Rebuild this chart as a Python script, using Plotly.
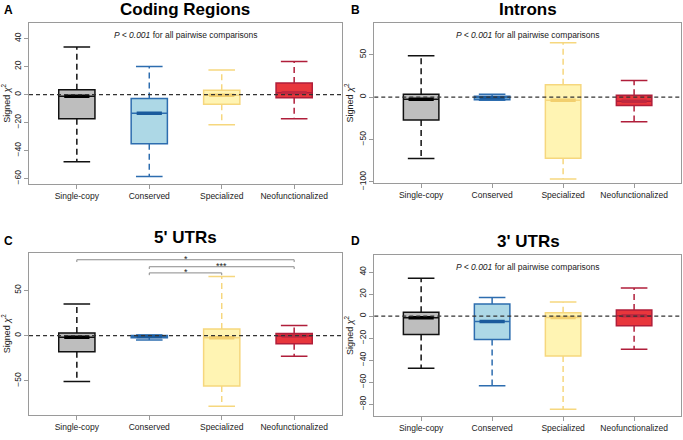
import plotly.graph_objects as go

CATEGORIES = ["Single-copy", "Conserved", "Specialized", "Neofunctionalized"]
PANEL_TITLES = ["Coding Regions", "Introns", "5' UTRs", "3' UTRs"]
PANEL_LETTERS = ["A", "B", "C", "D"]
PVALUE_NOTE = "<i>P &lt; 0.001</i> for all pairwise comparisons"

# Panel A - Coding regions
CODING_LOWER = [-48.0, -58.7, -21.6, -17.4]
CODING_Q1 = [-17.4, -35.2, -7.0, -2.3]
CODING_MEDIAN = [-1.2, -13.4, -0.5, 1.2]
CODING_Q3 = [3.5, -2.8, 3.0, 8.2]
CODING_UPPER = [34.0, 20.0, 17.6, 23.7]

# Panel B - Introns
INTRON_LOWER = [-72.4, -3.5, -96.5, -29.0]
INTRON_Q1 = [-27.0, -3.0, -72.0, -9.7]
INTRON_MEDIAN = [-2.3, -0.8, -3.5, -4.7]
INTRON_Q3 = [3.5, 1.2, 14.8, 2.3]
INTRON_UPPER = [48.8, 3.5, 64.4, 19.8]

# Panel C - 5' UTRs
UTR5_LOWER = [-50.7, -5.0, -78.0, -22.8]
UTR5_Q1 = [-18.0, -2.5, -55.8, -9.0]
UTR5_MEDIAN = [-1.8, -1.0, -2.5, -0.5]
UTR5_Q3 = [2.9, 0.0, 7.2, 2.2]
UTR5_UPPER = [34.8, 0.5, 65.2, 11.2]
UTR5_BRACKET_FROM = ["Single-copy", "Conserved", "Conserved"]
UTR5_BRACKET_TO = ["Neofunctionalized", "Neofunctionalized", "Specialized"]
UTR5_BRACKET_HEIGHT = [83.7, 76.0, 69.2]
UTR5_BRACKET_LABEL = ["*", "***", "*"]

# Panel D - 3' UTRs
UTR3_LOWER = [-47.3, -63.0, -84.5, -30.0]
UTR3_Q1 = [-16.7, -21.2, -36.0, -8.7]
UTR3_MEDIAN = [-1.5, -4.8, -1.2, 0.5]
UTR3_Q3 = [3.6, 11.0, 3.2, 5.6]
UTR3_UPPER = [34.5, 17.0, 13.0, 25.5]

FILL_COLORS = ["#BEBEBE", "#ADD8E6", "#FFF4B3", "#E8363C"]
LINE_COLORS = ["#111111", "#2D6DAF", "#F6D77E", "#B01E3A"]
MEDIAN_COLORS = ["#000000", "#1A5A9C", "#F2CF6E", "#C0283F"]

PANELS = [
    dict(lower=CODING_LOWER, q1=CODING_Q1, med=CODING_MEDIAN, q3=CODING_Q3, upper=CODING_UPPER,
         yrange=[-64, 51.4], ticks=[-60, -40, -20, 0, 20, 40], note=True,
         xdom=[0.0425, 0.5007], ydom=[0.575, 0.9477]),
    dict(lower=INTRON_LOWER, q1=INTRON_Q1, med=INTRON_MEDIAN, q3=INTRON_Q3, upper=INTRON_UPPER,
         yrange=[-101.5, 88], ticks=[-100, -50, 0, 50], note=True,
         xdom=[0.548, 0.997], ydom=[0.577, 0.9477]),
    dict(lower=UTR5_LOWER, q1=UTR5_Q1, med=UTR5_MEDIAN, q3=UTR5_Q3, upper=UTR5_UPPER,
         yrange=[-87.7, 91.6], ticks=[-50, 0, 50], note=False,
         xdom=[0.0425, 0.5007], ydom=[0.0416, 0.4166]),
    dict(lower=UTR3_LOWER, q1=UTR3_Q1, med=UTR3_MEDIAN, q3=UTR3_Q3, upper=UTR3_UPPER,
         yrange=[-90.2, 55.4], ticks=[-80, -60, -40, -20, 0, 20, 40], note=True,
         xdom=[0.548, 0.997], ydom=[0.0402, 0.4107]),
]

FONT = "Liberation Sans, Arial, Helvetica, sans-serif"
FRAME = "#9a9a9a"

fig = go.Figure()
shapes = []
annotations = []

for p, panel in enumerate(PANELS):
    sfx = "" if p == 0 else str(p + 1)
    xa, ya = "x" + sfx, "y" + sfx
    for i, cat in enumerate(CATEGORIES):
        fig.add_trace(go.Box(
            x=[cat], q1=[panel["q1"][i]], median=[panel["med"][i]], q3=[panel["q3"][i]],
            lowerfence=[panel["q1"][i]], upperfence=[panel["q3"][i]],
            width=0.5, whiskerwidth=0, boxpoints=False,
            fillcolor=FILL_COLORS[i], line=dict(color=LINE_COLORS[i], width=1.5),
            xaxis=xa, yaxis=ya, showlegend=False, hoverinfo="skip",
        ))
        # dashed whiskers
        fig.add_trace(go.Scatter(
            x=[cat, cat, None, cat, cat],
            y=[panel["q3"][i], panel["upper"][i], None, panel["q1"][i], panel["lower"][i]],
            mode="lines", line=dict(color=LINE_COLORS[i], width=1.5, dash="6px,4px"),
            xaxis=xa, yaxis=ya, showlegend=False, hoverinfo="skip",
        ))
        # whisker caps
        fig.add_trace(go.Scatter(
            x=[cat, cat], y=[panel["upper"][i], panel["lower"][i]],
            mode="markers",
            marker=dict(symbol="line-ew", size=19, line=dict(color=LINE_COLORS[i], width=1.5)),
            xaxis=xa, yaxis=ya, showlegend=False, hoverinfo="skip",
        ))
        # thick notch band at the median
        fig.add_trace(go.Scatter(
            x=[cat], y=[panel["med"][i]], mode="markers",
            marker=dict(symbol="line-ew", size=18, line=dict(color=MEDIAN_COLORS[i], width=3.5)),
            xaxis=xa, yaxis=ya, showlegend=False, hoverinfo="skip",
        ))
    # zero reference line
    shapes.append(dict(type="line", xref=xa + " domain", yref=ya, x0=0, x1=1, y0=0, y1=0,
                       line=dict(color="#333333", width=1.2, dash="4px,3px"), layer="above"))
    if panel["note"]:
        annotations.append(dict(text=PVALUE_NOTE, xref=xa + " domain", yref=ya + " domain",
                                x=0.5, y=0.925, showarrow=False, xanchor="center", yanchor="middle",
                                font=dict(family=FONT, size=8.5, color="#222222")))
    fig.layout["xaxis" + sfx] = dict(
        domain=panel["xdom"], anchor=ya, type="category", categoryorder="array",
        categoryarray=CATEGORIES, range=[-0.66, 3.66], showline=True, mirror=True,
        linecolor=FRAME, linewidth=1, ticks="outside", ticklen=4, tickcolor=FRAME,
        tickfont=dict(family=FONT, size=8.5, color="#222222"), showgrid=False, zeroline=False,
    )
    fig.layout["yaxis" + sfx] = dict(
        domain=panel["ydom"], anchor=xa, range=panel["yrange"], tickvals=panel["ticks"],
        tickangle=-90, showline=True, mirror=True, linecolor=FRAME, linewidth=1,
        ticks="outside", ticklen=4, tickcolor=FRAME,
        tickfont=dict(family=FONT, size=8.5, color="#222222"), showgrid=False, zeroline=False,
        title=dict(text="Signed <i>χ</i><sup>2</sup>", standoff=2,
                   font=dict(family=FONT, size=9, color="#222222")),
    )

# significance brackets on the 5' UTR panel
for a, b, h, lab in zip(UTR5_BRACKET_FROM, UTR5_BRACKET_TO, UTR5_BRACKET_HEIGHT, UTR5_BRACKET_LABEL):
    fig.add_trace(go.Scatter(
        x=[a, a, b, b], y=[h - 2.5, h, h, h - 2.5], mode="lines",
        line=dict(color="#8a8a8a", width=1), xaxis="x3", yaxis="y3",
        showlegend=False, hoverinfo="skip",
    ))
    mid = (CATEGORIES.index(a) + CATEGORIES.index(b)) / 2
    annotations.append(dict(text=lab, xref="x3", yref="y3", x=mid, y=h, showarrow=False,
                            xanchor="center", yanchor="middle", yshift=1,
                            font=dict(family=FONT, size=9, color="#222222")))

# panel titles and letters
TITLE_POS = [(185, 10), (528, 10), (185, 241), (528, 245)]
LETTER_POS = [(8, 10), (355, 10), (8, 245), (355, 245)]
W, H = 683, 440
for k in range(4):
    tx, ty = TITLE_POS[k]
    annotations.append(dict(text="<b>" + PANEL_TITLES[k] + "</b>", xref="paper", yref="paper",
                            x=tx / W, y=1 - ty / H, showarrow=False, xanchor="center", yanchor="middle",
                            font=dict(family=FONT, size=17, color="#000000")))
    lx, ly = LETTER_POS[k]
    annotations.append(dict(text="<b>" + PANEL_LETTERS[k] + "</b>", xref="paper", yref="paper",
                            x=lx / W, y=1 - ly / H, showarrow=False, xanchor="center", yanchor="middle",
                            font=dict(family=FONT, size=12, color="#000000")))

fig.update_layout(
    width=W, height=H, margin=dict(l=0, r=0, t=0, b=0),
    paper_bgcolor="white", plot_bgcolor="white",
    shapes=shapes, annotations=annotations, boxmode="overlay",
)

fig.write_html("out.html", include_plotlyjs=True, config={"displayModeBar": False},
               post_script="document.body.style.margin='0';document.body.style.overflow='hidden';")
